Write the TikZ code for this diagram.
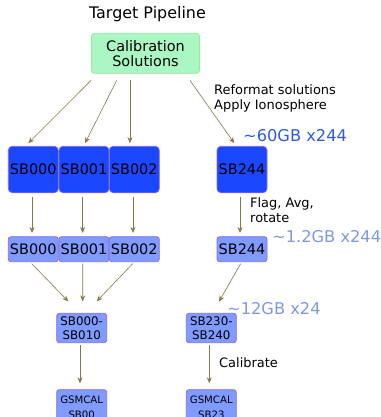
\documentclass[tikz,border=0pt]{standalone}
\usepackage{fontspec}
\setmainfont{DejaVu Sans}
\usetikzlibrary{calc,arrows.meta}
\definecolor{greenfill}{HTML}{AAF7C4}
\definecolor{greenline}{HTML}{96EA9E}
\definecolor{bluedark}{HTML}{1B47FF}
\definecolor{bluelight}{HTML}{7F9BFF}
\definecolor{boxline}{HTML}{8A68E0}
\definecolor{arrowcol}{HTML}{857A45}
\definecolor{bigblue}{HTML}{2C5BE0}
\definecolor{lightlabel}{HTML}{7F99DC}
\tikzset{
  calbox/.style={draw=greenline, fill=greenfill, rounded corners=3bp, line width=0.8bp,
    minimum width=108bp, minimum height=40bp, inner sep=0pt, align=center,
    font=\fontsize{14.5}{15}\selectfont},
  darkbox/.style={draw=boxline, fill=bluedark, rounded corners=4bp, line width=0.7bp,
    minimum width=50bp, minimum height=46.5bp, inner sep=0pt,
    font=\fontsize{14.5}{16}\selectfont},
  lightbox/.style={draw=boxline, fill=bluelight, rounded corners=2.5bp, line width=0.7bp,
    minimum width=50bp, minimum height=25bp, inner sep=0pt,
    font=\fontsize{14.5}{16}\selectfont},
  smallbox/.style={draw=boxline, fill=bluelight, rounded corners=2.5bp, line width=0.7bp,
    minimum width=50bp, minimum height=29.4bp, inner sep=0pt, align=center,
    font=\fontsize{11.9}{14}\selectfont},
  gsmbox/.style={draw=boxline, fill=bluelight, rounded corners=2.5bp, line width=0.7bp,
    minimum width=50bp, minimum height=36bp, inner sep=0pt, align=center,
    font=\fontsize{10.2}{15}\selectfont},
  flow/.style={draw=arrowcol, line width=0.6bp, -{Stealth[length=6bp,width=5bp,inset=2bp]}},
  note/.style={anchor=west, inner sep=0pt, align=left, font=\fontsize{13}{15}\selectfont},
  sizelabel/.style={anchor=west, inner sep=0pt, font=\fontsize{16.3}{18}\selectfont}
}
\begin{document}
\begin{tikzpicture}[x=1bp,y=-1bp]
\useasboundingbox (0,0) rectangle (381,417);
\clip (0,0) rectangle (381,417);
% title
\node[inner sep=0pt, font=\fontsize{16}{18}\selectfont] (title) at (147.5,14.5) {Target Pipeline};
% calibration
\node[calbox] (cal) at (145.5,53.3) {Calibration\\Solutions};
% row 1
\node[darkbox] (a0) at (33.3,169.5) {SB000};
\node[darkbox] (a1) at (84,169.5) {SB001};
\node[darkbox] (a2) at (134.3,169.5) {SB002};
\node[darkbox] (a3) at (242,169.5) {SB244};
% row 2
\node[lightbox] (b0) at (33.3,249.2) {SB000};
\node[lightbox] (b1) at (84,249.2) {SB001};
\node[lightbox] (b2) at (134.3,249.2) {SB002};
\node[lightbox] (b3) at (242,249.2) {SB244};
% row 3
\node[smallbox] (c0) at (81.7,328) {SB000-\\SB010};
\node[smallbox] (c1) at (211.3,328) {SB230-\\SB240};
% row 4
\node[gsmbox, anchor=north] (d0) at (81.7,389.3) {GSMCAL\\SB00};
\node[gsmbox, anchor=north] (d1) at (211.3,389.3) {GSMCAL\\SB23};
% labels
\node[note] (reformat) at (214,98.5) {Reformat solutions\\Apply Ionosphere};
\node[note] (flag) at (250,210) {Flag, Avg,\\rotate};
\node[note] (calib) at (219,363) {Calibrate};
\node[sizelabel, text=bigblue] (s60) at (243,135.5) {\char"007E 60GB x244};
\node[sizelabel, text=lightlabel] (s12a) at (272,237) {\char"007E 1.2GB x244};
\node[sizelabel, text=lightlabel] (s12b) at (227,309) {\char"007E 12GB x24};
% arrows calibration -> row 1
\draw[flow] ($(cal.south)+(-54.5,6.7)$) -- ($(a0.north)+(-5,-2.7)$);
\draw[flow] ($(cal.south)+(-28.8,6.7)$) -- ($(a1.north)+(1,-2.7)$);
\draw[flow] ($(cal.south)+(-15.5,6.7)$) -- ($(a2.north)+(-4.3,-2.7)$);
\draw[flow] ($(cal.south)+(44.5,6.7)$) -- ($(a3.north)+(-7.7,-2.7)$);
% row 1 -> row 2
\draw[flow] ($(a0.south)+(-1.3,3.5)$) -- ($(b0.north)+(-1.3,-3.4)$);
\draw[flow] ($(a1.south)+(-1.3,3.5)$) -- ($(b1.north)+(-1.3,-3.4)$);
\draw[flow] ($(a2.south)+(-1.3,3.5)$) -- ($(b2.north)+(-1.3,-3.4)$);
\draw[flow] ($(a3.south)+(-2,3.5)$) -- ($(b3.north)+(-2,-3.4)$);
% row 2 -> row 3
\draw[flow] ($(b0.south)+(-1.6,1.6)$) -- ($(c0.north)+(-13.4,-11.6)$);
\draw[flow] ($(b1.south)+(-1.3,1.6)$) -- ($(c0.north)+(1,-11.6)$);
\draw[flow] ($(b2.south)+(-1.6,1.6)$) -- ($(c0.north)+(15,-11.6)$);
\draw[flow] ($(b3.south)+(-1.3,1.6)$) -- ($(c1.north)+(7.7,-11.3)$);
% row 3 -> row 4
\draw[flow] ($(c0.south)+(-1.7,2.3)$) -- ($(d0.north)+(-1.7,-6)$);
\draw[flow] ($(c1.south)+(-2,2.3)$) -- ($(d1.north)+(-2,-6)$);
\end{tikzpicture}
\end{document}
